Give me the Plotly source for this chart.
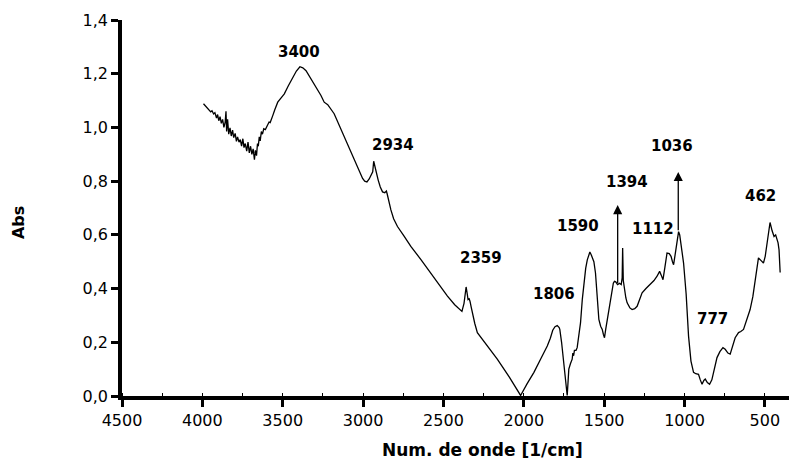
import plotly.graph_objects as go

wavenumber = [
    3993, 3980, 3968, 3958, 3948, 3940, 3930, 3922, 3912, 3905, 3898, 3890, 3882, 3874, 3866,
    3858, 3853, 3849, 3843, 3836, 3828, 3820, 3812, 3805, 3796, 3788, 3781, 3772, 3764, 3756,
    3748, 3741, 3733, 3724, 3716, 3708, 3700, 3692, 3684, 3676, 3670, 3663, 3657, 3652, 3646,
    3640, 3633, 3626, 3618, 3608, 3598, 3585, 3578, 3570, 3562, 3550, 3540, 3531, 3510, 3490,
    3465, 3438, 3415,
    3393, 3375, 3355, 3325, 3293, 3262, 3242, 3220, 3180, 3150, 3117, 3085, 3055, 3025, 3003,
    2990, 2976, 2962, 2952, 2940, 2934, 2920, 2912, 2906, 2893, 2879, 2865, 2855, 2850, 2840,
    2827, 2810, 2786, 2745, 2703, 2640, 2579, 2520, 2475, 2430, 2385, 2372, 2365, 2359, 2352,
    2347, 2340, 2335, 2327, 2320, 2305, 2289, 2230, 2165, 2090, 2020, 1980, 1937, 1895, 1854,
    1835, 1820, 1806, 1792, 1780, 1776, 1765, 1751, 1740, 1730, 1724, 1720, 1710, 1699, 1695,
    1690, 1685, 1675, 1668, 1655, 1647, 1636, 1626, 1615, 1605, 1595, 1589, 1580, 1570, 1564,
    1554, 1543, 1533, 1522, 1512, 1505, 1498, 1490, 1480, 1471, 1460, 1450, 1443, 1436, 1428,
    1420, 1416, 1405, 1398, 1394, 1388, 1385, 1381, 1374, 1365, 1357, 1340, 1326, 1310, 1295,
    1280, 1264, 1240, 1212, 1190, 1171, 1160, 1155, 1145, 1134, 1122, 1109, 1095, 1084, 1075,
    1068, 1055, 1045, 1037, 1030, 1018, 1006, 990, 975, 960, 944, 930, 913, 902, 891,
    880, 871, 858, 844, 830, 819, 808, 798, 780, 761, 747, 730, 716, 700, 685,
    664, 650, 633, 610, 592, 575, 561, 550, 540, 525, 509, 498, 488, 478, 468,
    455, 443, 433, 426, 418, 412, 405,
]
absorbance = [
    1.088, 1.080, 1.072, 1.068, 1.058, 1.062, 1.050, 1.055, 1.035, 1.048, 1.025, 1.040, 1.015, 1.030, 1.000,
    1.020, 1.060, 0.985, 1.030, 0.975, 0.998, 0.968, 0.990, 0.962, 0.978, 0.948, 0.965, 0.945, 0.955, 0.930,
    0.958, 0.925, 0.940, 0.912, 0.945, 0.905, 0.930, 0.900, 0.920, 0.880, 0.915, 0.895, 0.940, 0.930, 0.965,
    0.950, 0.985, 0.975, 0.995, 0.992, 1.005, 1.020, 1.018, 1.035, 1.044, 1.065, 1.080, 1.094, 1.110, 1.125,
    1.155, 1.186, 1.210,
    1.226, 1.222, 1.211, 1.182, 1.149, 1.119, 1.094, 1.085, 1.051, 1.010, 0.964, 0.920, 0.878, 0.838, 0.810,
    0.800, 0.797, 0.808, 0.819, 0.835, 0.874, 0.835, 0.812, 0.804, 0.778, 0.760, 0.757, 0.763, 0.752, 0.720,
    0.693, 0.660, 0.631, 0.595, 0.557, 0.508, 0.458, 0.410, 0.372, 0.340, 0.315, 0.345, 0.380, 0.406, 0.380,
    0.359, 0.362, 0.353, 0.330, 0.310, 0.270, 0.236, 0.188, 0.137, 0.070, 0.002, 0.045, 0.088, 0.138, 0.186,
    0.215, 0.245, 0.258, 0.262, 0.255, 0.248, 0.200, 0.125, 0.060, 0.002, 0.060, 0.100, 0.120, 0.137, 0.160,
    0.150, 0.170, 0.170, 0.180, 0.230, 0.273, 0.360, 0.421, 0.475, 0.507, 0.530, 0.536, 0.525, 0.505, 0.500,
    0.458, 0.370, 0.285, 0.260, 0.248, 0.230, 0.217, 0.250, 0.290, 0.322, 0.370, 0.409, 0.420, 0.427, 0.425,
    0.418, 0.415, 0.420, 0.415, 0.415, 0.440, 0.551, 0.430, 0.396, 0.365, 0.347, 0.328, 0.322, 0.325, 0.334,
    0.355, 0.384, 0.400, 0.415, 0.430, 0.446, 0.462, 0.464, 0.450, 0.433, 0.480, 0.532, 0.530, 0.520, 0.500,
    0.489, 0.540, 0.590, 0.612, 0.600, 0.545, 0.495, 0.380, 0.223, 0.130, 0.088, 0.083, 0.081, 0.060, 0.044,
    0.058, 0.063, 0.050, 0.044, 0.060, 0.088, 0.120, 0.143, 0.165, 0.180, 0.174, 0.160, 0.156, 0.190, 0.217,
    0.236, 0.240, 0.248, 0.285, 0.322, 0.370, 0.421, 0.470, 0.514, 0.505, 0.495, 0.520, 0.557, 0.610, 0.646,
    0.615, 0.594, 0.600, 0.588, 0.570, 0.544, 0.460,
]

# peak labels: text, x position, y position
label_text = ["3400", "2934", "2359", "1806", "1590", "1394", "1112", "1036", "462", "777"]
label_x = [3399, 2812, 2268, 1815, 1660, 1355, 1194, 1076, 529, 824]
label_y = [1.281, 0.935, 0.515, 0.381, 0.633, 0.796, 0.622, 0.930, 0.744, 0.285]

# arrows: x, tail y, head y
arrow_x = [1416, 1039]
arrow_y0 = [0.415, 0.612]
arrow_y1 = [0.711, 0.834]

x_ticks = [4500, 4000, 3500, 3000, 2500, 2000, 1500, 1000, 500]
y_ticks = [0.0, 0.2, 0.4, 0.6, 0.8, 1.0, 1.2, 1.4]

FONT = "DejaVu Sans"

fig = go.Figure()
fig.add_trace(go.Scatter(x=wavenumber, y=absorbance, mode="lines",
                         line=dict(color="black", width=1.3), showlegend=False,
                         hoverinfo="skip"))

annotations = []
for t, x, y in zip(label_text, label_x, label_y):
    annotations.append(dict(x=x, y=y, xref="x", yref="y", text="<b>" + t + "</b>",
                            showarrow=False, font=dict(family=FONT, size=15, color="black")))
for x, y0, y1 in zip(arrow_x, arrow_y0, arrow_y1):
    annotations.append(dict(x=x, y=y1, ax=x, ay=y0, xref="x", yref="y", axref="x", ayref="y",
                            text="", showarrow=True, arrowhead=2, arrowsize=1.4,
                            arrowwidth=1.3, arrowcolor="black"))
annotations.append(dict(x=0, y=0.644, xref="paper", yref="y", xshift=-104, text="<b>Abs</b>",
                        textangle=-90, showarrow=False, xanchor="center", yanchor="middle",
                        font=dict(family=FONT, size=16, color="black")))
annotations.append(dict(x=0.54, y=0, xref="paper", yref="paper", yshift=-54,
                        text="<b>Num. de onde [1/cm]</b>",
                        showarrow=False, xanchor="center", yanchor="middle",
                        font=dict(family=FONT, size=17, color="black")))

fig.update_layout(
    width=789, height=459,
    margin=dict(l=122, r=0, t=20, b=63),
    paper_bgcolor="white", plot_bgcolor="white",
    separators=", ",
    annotations=annotations,
    xaxis=dict(range=[4500, 350], tickvals=x_ticks, showgrid=False, zeroline=False,
               showline=True, linecolor="black", linewidth=3.5,
               ticks="outside", ticklen=7, tickwidth=3, tickcolor="black",
               minor=dict(dtick=250, tick0=0, ticks="inside", ticklen=3, tickwidth=1, tickcolor="black"),
               tickfont=dict(family=FONT, size=16, color="black")),
    yaxis=dict(range=[0, 1.4], tickvals=y_ticks, tickformat=".1f", showgrid=False, zeroline=False,
               showline=True, linecolor="black", linewidth=3.5,
               ticks="outside", ticklen=7, tickwidth=3, tickcolor="black",
               tickfont=dict(family=FONT, size=16, color="black")),
)

fig.write_html("out.html")
